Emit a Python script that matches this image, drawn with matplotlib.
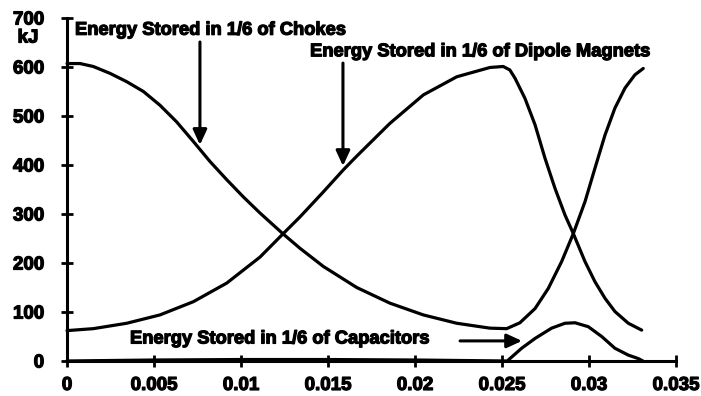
"""Energy stored in chokes, dipole magnets and capacitors over one cycle (1/6 of the ring)."""

import matplotlib

matplotlib.use("Agg")
import matplotlib.patheffects as pe
import matplotlib.pyplot as plt

# Time axis in s, energy in kJ.
T_CHOKES = [0, 0.00075, 0.00151, 0.00247, 0.00343, 0.00439, 0.00534, 0.0063, 0.00726,
            0.00822, 0.00918, 0.01013, 0.01109, 0.01243, 0.01339, 0.01473, 0.01665,
            0.01856, 0.02048, 0.0224, 0.02431, 0.02527, 0.02603, 0.0269, 0.02766,
            0.02843, 0.0291, 0.02977, 0.03034, 0.03092, 0.03149, 0.03207, 0.03264,
            0.03312]
E_CHOKES = [607, 607, 601, 587, 570, 550, 522, 488, 448,
            407, 370, 335, 302, 259, 230, 193, 150,
            118, 94, 77, 67, 66, 78, 107, 148,
            203, 260, 325, 393, 461, 516, 557, 584,
            597]

T_DIPOLE = [0, 0.00151, 0.00343, 0.00534, 0.00726, 0.00918, 0.01109, 0.01243, 0.01339,
            0.01473, 0.01588, 0.01665, 0.01856, 0.02048, 0.0224, 0.02431, 0.02507,
            0.02545, 0.02575, 0.02632, 0.0269, 0.02747, 0.02805, 0.02862, 0.0291,
            0.02977, 0.03034, 0.03092, 0.03149, 0.03226, 0.03303]
E_DIPOLE = [62, 66, 77, 94, 121, 159, 212, 260, 294,
            345, 390, 418, 485, 543, 580, 599, 601,
            594, 577, 536, 482, 414, 352, 298, 260,
            203, 162, 128, 101, 77, 63]

T_CAP = [0, 0.005, 0.01, 0.015, 0.02, 0.0253, 0.02613, 0.0269, 0.02785, 0.02862,
         0.0292, 0.02996, 0.03073, 0.03149, 0.03226, 0.03283, 0.0331]
E_CAP = [0, 2, 3, 3, 2, 0, 26, 46, 67, 77,
         78, 70, 50, 26, 12, 5, 0]

X_TICKS = [0, 0.005, 0.01, 0.015, 0.02, 0.025, 0.03, 0.035]
X_LABELS = ["0", "0.005", "0.01", "0.015", "0.02", "0.025", "0.03", "0.035"]
Y_TICKS = [0, 100, 200, 300, 400, 500, 600, 700]

FONT = {"family": "Liberation Sans", "weight": "bold"}
HEAVY = [pe.withStroke(linewidth=0.9, foreground="black")]
LW = 2.3


def _arrow(ax, start, end):
    ax.annotate("", xy=end, xytext=start,
                arrowprops=dict(arrowstyle="-|>,head_length=0.65,head_width=0.3",
                                mutation_scale=14, lw=2.2, color="black",
                                shrinkA=0, shrinkB=0))


def _label(ax, x, y, s):
    ax.text(x, y, s, ha="left", va="center", fontsize=13.2, path_effects=HEAVY, **FONT)


def main() -> None:
    fig = plt.figure(figsize=(7.01, 3.96), dpi=100)
    ax = fig.add_axes([0.0956, 0.0884, 0.8687, 0.8662])

    for t, e in [(T_CHOKES, E_CHOKES), (T_DIPOLE, E_DIPOLE), (T_CAP, E_CAP)]:
        ax.plot(t, e, color="black", lw=LW, clip_on=False,
                solid_capstyle="round", solid_joinstyle="round")

    ax.set_xlim(0, 0.035)
    ax.set_ylim(0, 700)
    for side in ("top", "right"):
        ax.spines[side].set_visible(False)
    for side in ("left", "bottom"):
        ax.spines[side].set_linewidth(2.2)

    ax.set_xticks(X_TICKS)
    ax.set_xticklabels(X_LABELS, fontdict=FONT, fontsize=13.5)
    ax.set_yticks(Y_TICKS)
    ax.set_yticklabels([str(v) for v in Y_TICKS], fontdict=FONT, fontsize=13.5)
    for lbl in ax.get_xticklabels() + ax.get_yticklabels():
        lbl.set_path_effects(HEAVY)
    ax.tick_params(axis="x", direction="inout", length=9, width=2, pad=7)
    ax.tick_params(axis="y", direction="inout", length=9, width=2, pad=12)

    fig.text(28 / 701, 1 - 38 / 396, "kJ", ha="center", va="center", fontsize=13.5,
             path_effects=HEAVY, **FONT)

    # Labels and arrows.
    _label(ax, 0.00046, 675, "Energy Stored in 1/6 of Chokes")
    _arrow(ax, (0.00764, 651), (0.00764, 441))

    _label(ax, 0.01397, 631, "Energy Stored in 1/6 of Dipole Magnets")
    _arrow(ax, (0.01586, 608), (0.01586, 398))

    _label(ax, 0.00362, 45, "Energy Stored in 1/6 of Capacitors")
    _arrow(ax, (0.02259, 41), (0.02615, 41))

    fig.savefig("out.png", dpi=100, facecolor="white")
    plt.close(fig)


if __name__ == "__main__":
    main()
